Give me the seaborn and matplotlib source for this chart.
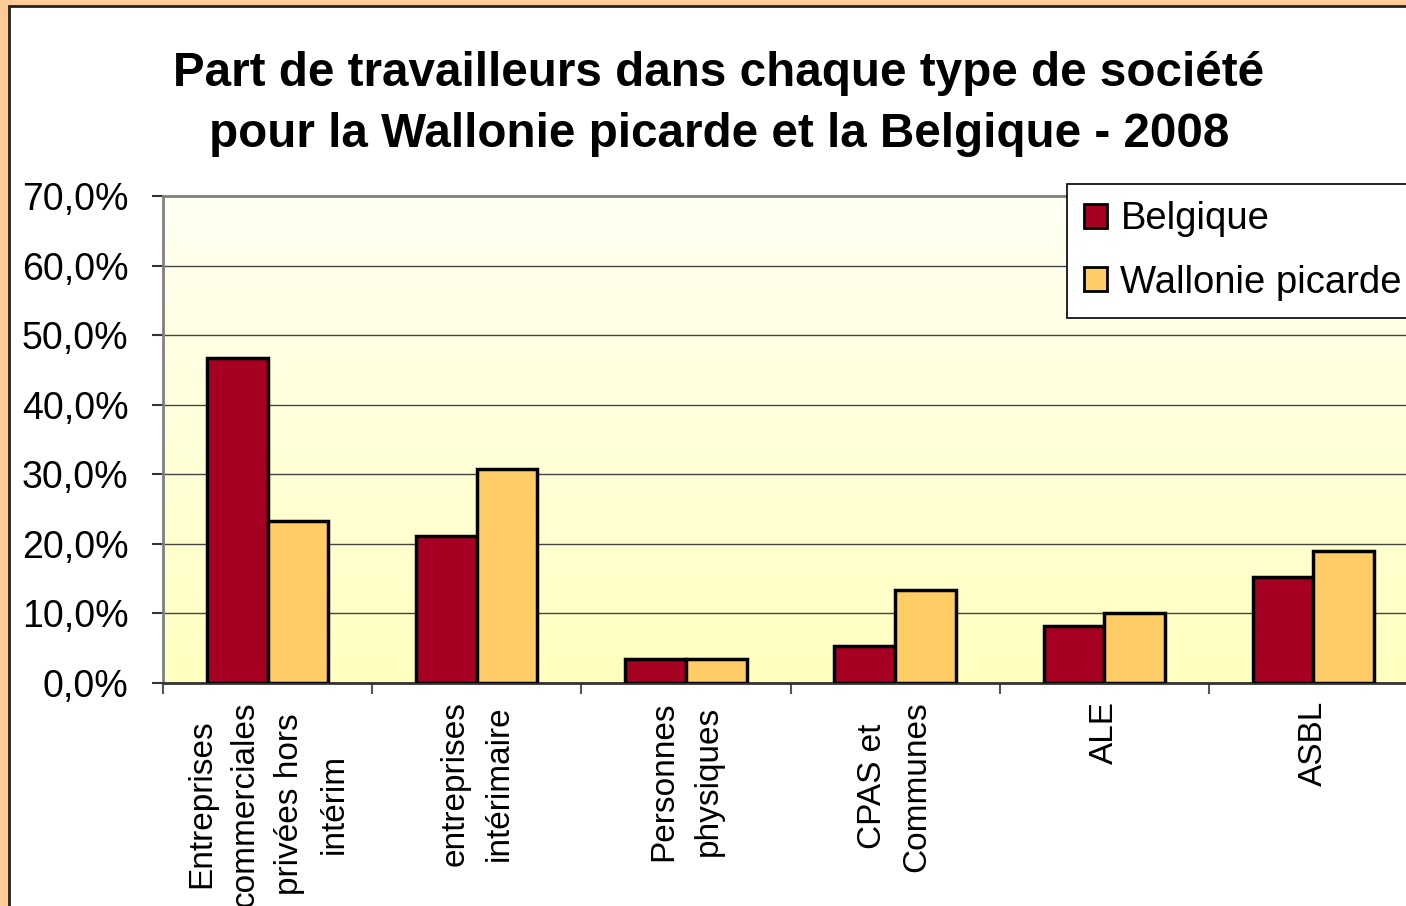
import numpy as np
import pandas as pd
import matplotlib
matplotlib.use('Agg')
import matplotlib.pyplot as plt
import seaborn as sns
from matplotlib.patches import Rectangle
from matplotlib.ticker import FuncFormatter, FixedLocator

# Data (% of workers)
categories = ['Entreprises\ncommerciales\nprivées hors\nintérim',
              'entreprises\nintérimaire',
              'Personnes\nphysiques',
              'CPAS et\nCommunes',
              'ALE',
              'ASBL']
belgique = [46.7, 21.1, 3.4, 5.3, 8.2, 15.2]
wallonie = [23.3, 30.7, 3.4, 13.4, 10.1, 19.0]
series = ['Belgique', 'Wallonie picarde']
colors = ['#A50021', '#FFCC66']

df = pd.DataFrame({
    'Type': categories * 2,
    'Zone': [series[0]] * len(categories) + [series[1]] * len(categories),
    'Part': belgique + wallonie,
})

sns.set_style('white')
plt.rcParams['font.family'] = ['Liberation Sans', 'DejaVu Sans']
plt.rcParams['text.color'] = 'black'
plt.rcParams['xtick.color'] = 'black'
plt.rcParams['ytick.color'] = 'black'

fig = plt.figure(figsize=(14.06, 9.06), dpi=100, facecolor='#FFCC99')
# white panel with dark border
fig.patches.append(Rectangle((9 / 1406, -0.1), 1.2, 1 - 6 / 906 + 0.1,
                             transform=fig.transFigure, facecolor='white',
                             edgecolor='#222222', linewidth=2, zorder=-5))

ax = fig.add_axes([163 / 1406, 1 - 683 / 906, 1255 / 1406, 487 / 906])
ax.set_zorder(2)
ax.set_facecolor('none')

# gradient background in the plot area
grad = np.linspace(0, 1, 256).reshape(-1, 1)
cmap = matplotlib.colors.LinearSegmentedColormap.from_list('bg', ['#FFFFC0', '#FFFFF2'])
ax.imshow(grad, aspect='auto', cmap=cmap, origin='lower',
          extent=[-0.5, len(categories) - 0.5, 0, 70], zorder=0)

sns.barplot(data=df, x='Type', y='Part', hue='Zone', palette=colors,
            width=0.58, gap=0, edgecolor='black', linewidth=2.5,
            saturation=1, ax=ax, zorder=3)

ax.set_xlim(-0.5, len(categories) - 0.5)
ax.set_ylim(0, 70)
ax.set_yticks(np.arange(0, 71, 10))
ax.yaxis.set_major_formatter(FuncFormatter(lambda v, p: f'{v:.1f}%'.replace('.', ',')))
ax.grid(axis='y', color='#444444', linewidth=1, zorder=1)
ax.set_axisbelow(True)
ax.set_xlabel('')
ax.set_ylabel('')

for s in ['top', 'left']:
    ax.spines[s].set_color('#808080')
    ax.spines[s].set_linewidth(2)
ax.spines['right'].set_visible(False)
ax.spines['bottom'].set_color('#333333')
ax.spines['bottom'].set_linewidth(2)

ax.tick_params(axis='y', length=8, width=1.5, color='#333333', labelsize=27, pad=17,
               left=True, direction='out')
ax.set_xticks(range(len(categories)))
ax.set_xticklabels(categories, rotation=90, ha='center', va='top',
                   multialignment='center', fontsize=24, linespacing=1.55)
ax.tick_params(axis='x', length=0, pad=13)
ax.xaxis.set_minor_locator(FixedLocator(np.arange(-0.5, len(categories), 1)))
ax.tick_params(axis='x', which='minor', length=8, width=1.5, color='#555555', bottom=True)

leg = ax.legend(loc='upper left', bbox_to_anchor=(1067 / 1406, 1 - 184 / 906),
                bbox_transform=fig.transFigure, fontsize=27.5, frameon=True,
                fancybox=False, edgecolor='black', framealpha=1,
                handlelength=0.6, handleheight=0.6, handletextpad=0.35,
                borderaxespad=0, borderpad=0.45, labelspacing=0.72)
leg.get_frame().set_linewidth(1.2)
for h in leg.legend_handles:
    h.set_edgecolor('black')
    h.set_linewidth(2)

fig.text(719 / 1406, 1 - 104 / 906,
         'Part de travailleurs dans chaque type de société\npour la Wallonie picarde et la Belgique - 2008',
         ha='center', va='center', fontsize=34.3, fontweight='bold', linespacing=1.45,
         color='black')

fig.savefig('out.png', dpi=100, facecolor=fig.get_facecolor())
